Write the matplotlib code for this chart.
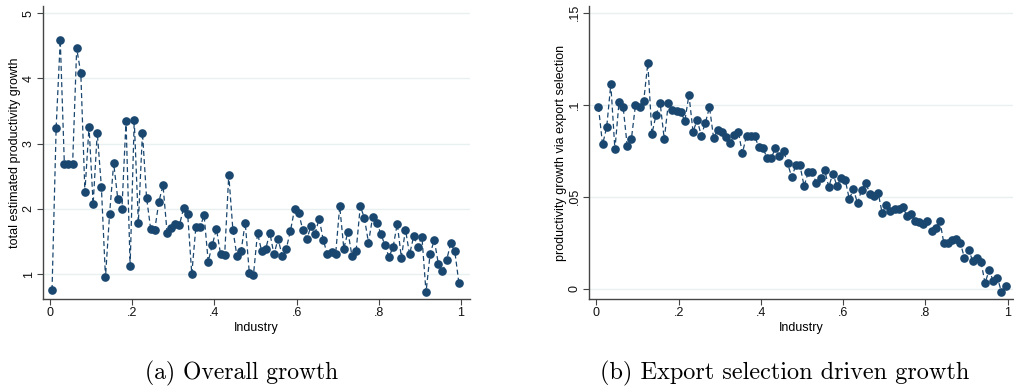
import matplotlib
matplotlib.use('Agg')
import matplotlib.pyplot as plt
import numpy as np

# industry percentile (100 bins, centred)
industry = (np.arange(100) + 0.5) / 100

total_growth = [
    0.755, 3.245, 4.59, 2.68, 2.69, 2.68, 4.46, 4.08, 2.26, 3.26,
    2.07, 3.17, 2.34, 0.95, 1.92, 2.70, 2.15, 1.99, 3.35, 1.13,
    3.36, 1.79, 3.17, 2.17, 1.69, 1.68, 2.11, 2.36, 1.63, 1.71,
    1.76, 1.75, 2.01, 1.92, 1.00, 1.72, 1.72, 1.90, 1.19, 1.45,
    1.69, 1.31, 1.29, 2.52, 1.68, 1.27, 1.35, 1.79, 1.02, 0.98,
    1.63, 1.35, 1.39, 1.63, 1.30, 1.54, 1.28, 1.39, 1.66, 1.99,
    1.94, 1.68, 1.54, 1.73, 1.62, 1.85, 1.52, 1.30, 1.34, 1.30,
    2.04, 1.39, 1.65, 1.27, 1.36, 2.04, 1.86, 1.48, 1.87, 1.79,
    1.62, 1.44, 1.26, 1.42, 1.77, 1.25, 1.68, 1.30, 1.58, 1.42,
    1.57, 0.72, 1.31, 1.52, 1.16, 1.04, 1.21, 1.47, 1.35, 0.86,
]

export_growth = [
    0.0987, 0.0784, 0.0877, 0.1111, 0.0757, 0.1014, 0.0987, 0.0775, 0.0812, 0.0998,
    0.0989, 0.1020, 0.1225, 0.0841, 0.0944, 0.1009, 0.0812, 0.1009, 0.0971, 0.0966,
    0.0962, 0.0911, 0.1053, 0.0853, 0.0917, 0.0832, 0.0902, 0.0986, 0.0819, 0.0862,
    0.0851, 0.0826, 0.0790, 0.0835, 0.0853, 0.0736, 0.0832, 0.0832, 0.0828, 0.0768,
    0.0766, 0.0708, 0.0708, 0.0764, 0.0723, 0.0748, 0.0681, 0.0605, 0.0672, 0.0670,
    0.0558, 0.0632, 0.0632, 0.0572, 0.0601, 0.0643, 0.0554, 0.0625, 0.0558, 0.0600,
    0.0591, 0.0487, 0.0540, 0.0464, 0.0538, 0.0576, 0.0514, 0.0505, 0.0522, 0.0409,
    0.0457, 0.0424, 0.0433, 0.0431, 0.0442, 0.0397, 0.0406, 0.0370, 0.0361, 0.0353,
    0.0366, 0.0313, 0.0330, 0.0370, 0.0246, 0.0248, 0.0264, 0.0270, 0.0248, 0.0167,
    0.0210, 0.0152, 0.0165, 0.0147, 0.0031, 0.0100, 0.0042, 0.0060, -0.0018, 0.0013,
]

x_ticks = [0, 0.2, 0.4, 0.6, 0.8, 1.0]
x_ticklabels = ['0', '.2', '.4', '.6', '.8', '1']
left_yticks = [1, 2, 3, 4, 5]
left_yticklabels = ['1', '2', '3', '4', '5']
right_yticks = [0, 0.05, 0.1, 0.15]
right_yticklabels = ['0', '.05', '.1', '.15']

navy = '#1a476f'
W, H = 1014, 387
plt.rcParams['font.family'] = ['Liberation Sans', 'DejaVu Sans']

fig = plt.figure(figsize=(W / 100, H / 100), dpi=100)


def px_axes(l, t, r, b):
    return fig.add_axes([l / W, 1 - b / H, (r - l) / W, (b - t) / H])


def style(ax, y, yticks, yticklabels, ylabel, xlim, ylim):
    ax.plot(industry, y, linestyle=(0, (4, 2.5)), color=navy, lw=0.9,
            marker='o', markersize=5.2, markerfacecolor=navy,
            markeredgecolor=navy, zorder=3)
    ax.set_xlim(*xlim)
    ax.set_ylim(*ylim)
    ax.set_xticks(x_ticks)
    ax.set_xticklabels(x_ticklabels, fontsize=9)
    ax.set_yticks(yticks)
    ax.set_yticklabels(yticklabels, fontsize=9, rotation=90, va='center')
    ax.set_xlabel('Industry', fontsize=9, labelpad=2)
    ax.set_ylabel(ylabel, fontsize=9, labelpad=1)
    ax.grid(axis='y', color='#e8f0f2', lw=1.0)
    ax.set_axisbelow(True)
    for s in ['top', 'right']:
        ax.spines[s].set_visible(False)
    for s in ['left', 'bottom']:
        ax.spines[s].set_color('#444444')
        ax.spines[s].set_linewidth(1.0)
    ax.tick_params(direction='out', length=4, width=0.8, color='#444444',
                   labelcolor='#111111', pad=2)


ax1 = px_axes(43, 6, 470, 299)
style(ax1, total_growth, left_yticks, left_yticklabels,
      'total estimated productivity growth', (-0.017, 1.022), (0.617, 5.11))

ax2 = px_axes(589, 6, 1013, 299)
style(ax2, export_growth, right_yticks, right_yticklabels,
      'productivity growth via export selection', (-0.018, 1.013), (-0.0056, 0.1536))

fig.text(242 / W, 1 - 373 / H, '(a) Overall growth', family='cmr10',
         fontsize=17, ha='center', va='center')
fig.text(785 / W, 1 - 373 / H, '(b) Export selection driven growth', family='cmr10',
         fontsize=17.5, ha='center', va='center')

fig.savefig('out.png', dpi=100)
